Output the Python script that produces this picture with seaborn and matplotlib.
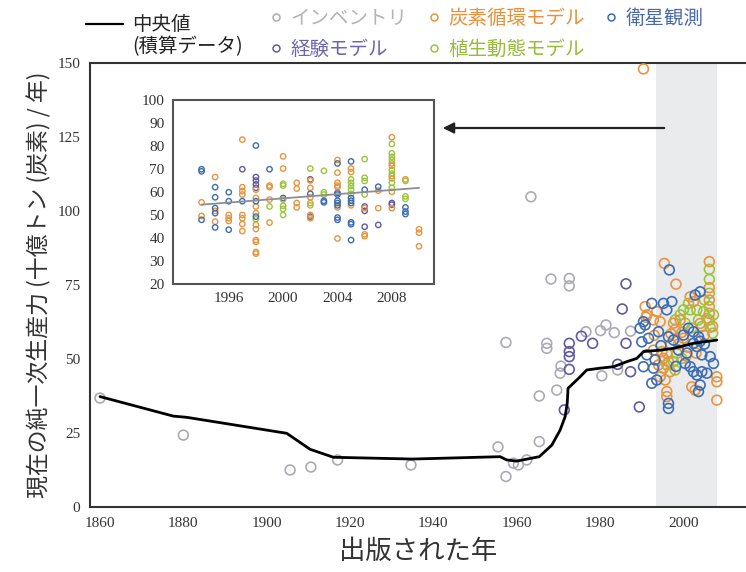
import matplotlib
matplotlib.use("Agg")
import matplotlib.pyplot as plt
from matplotlib.lines import Line2D
from matplotlib.ticker import MultipleLocator, FixedLocator
import seaborn as sns

# Dados --------------------------------------------------------------------------------
# curva do valor mediano (integrado)
med_year = [1860, 1877.6, 1880.8, 1904.8, 1910.4, 1916, 1935, 1956, 1957.6, 1960, 1965.4,
            1968.4, 1970.4, 1971.6, 1972.1, 1972.3, 1975.2, 1976.8, 1980, 1983.2, 1986.4,
            1988.8, 1990.4, 1994.4, 1997.6, 2002.4, 2008]
med_val = [37.3, 30.7, 30.3, 24.9, 19.5, 16.8, 16.2, 17.0, 15.9, 15.5, 17.0,
           20.9, 26.0, 30.5, 35.0, 40.1, 44.0, 46.3, 46.9, 47.4, 49.1,
           50.2, 52.5, 53.0, 53.6, 55.3, 56.4]

# inventários
inv_year = [1860, 1880, 1905.6, 1910.6, 1917, 1934.6, 1955.5, 1957.4, 1957.4, 1959.2, 1960.4,
            1962.4, 1963.4, 1965.4, 1965.4, 1967.2, 1967.2, 1968.2, 1969.6, 1970.4, 1970.6,
            1972.6, 1972.6, 1976.6, 1980.1, 1980.4, 1981.4, 1983.4, 1984.2, 1987.3]
inv_val = [36.8, 24.3, 12.5, 13.5, 15.9, 14.2, 20.3, 10.3, 55.6, 14.8, 14.2,
           15.9, 104.8, 37.5, 22.1, 55.3, 53.6, 77.0, 39.5, 45.2, 47.6,
           77.2, 74.7, 59.2, 59.6, 44.3, 61.5, 58.9, 46.3, 59.4]

# modelos empíricos
emp_year = [1971.4, 1972.6, 1972.6, 1972.6, 1972.6, 1975.5, 1978.2, 1984.2, 1985.3,
            1986.2, 1986.2, 1987.3, 1989.4]
emp_val = [32.8, 55.3, 52.5, 50.8, 46.5, 57.7, 55.3, 48.2, 66.9,
           75.4, 55.3, 45.7, 33.8]

# modelos do ciclo do carbono
car_year = [1990.4, 1995.4, 1998.2, 2006.2, 2001.6, 2002.4, 1991.2, 1993.6, 1992.8, 1994.4,
            1997.6, 1999.2, 1992.8, 1994.8, 1996.0, 1995.2, 1996.4, 1995.2, 1996.8, 1994.4,
            1995.6, 2008, 2008, 2008, 2002.0, 2002.8, 1996, 1996, 2006.2, 2006.2,
            2006.2, 2000.0, 1998.8, 2004.0, 2007.0, 1997.0, 1990.8, 1991.0, 1993.0, 1998.0,
            1999.6, 2001.0, 2003.0, 2005.0, 1997.0, 2000.6, 1994.0]
car_val = [148.0, 82.3, 75.3, 82.9, 71.0, 69.4, 64.9, 66.0, 63.2, 62.6,
           62.1, 63.2, 53.0, 52.5, 51.9, 50.2, 49.1, 46.9, 45.7, 44.0,
           42.9, 44.0, 42.3, 36.1, 40.6, 39.5, 39.0, 37.3, 74.1, 69.9,
           65.4, 57.0, 55.0, 62.0, 61.0, 58.5, 67.7, 64.1, 58.0, 60.0,
           59.0, 54.0, 52.0, 58.0, 55.0, 51.0, 48.0]

# modelos de dinâmica da vegetação
veg_year = [2006.2, 2006.2, 2006.2, 2006.2, 2006.2, 2006.4, 2007.0, 2001.2, 2000.0, 2001.6,
            2003.2, 2004.8, 1998.0, 1999.2, 2000.4, 2003.6, 2005.6, 2007.2, 1998.4, 1999.6,
            1997.6, 1996.0, 1998.0, 2004.4, 2002.0, 2005.0]
veg_val = [80.3, 76.9, 72.2, 67.7, 63.2, 60.7, 58.7, 68.8, 66.6, 66.6,
           66.6, 66.0, 63.2, 64.9, 62.1, 63.2, 63.7, 64.9, 51.9, 50.2,
           49.1, 48.0, 46.3, 61.0, 60.5, 70.0]

# observação por satélite
sat_year = [1996.6, 2004.0, 2002.8, 1992.4, 1995.2, 1997.2, 1996.0, 1990.8, 2001.2, 2002.4,
            2000.0, 2003.6, 1994.0, 1996.4, 1997.6, 1991.6, 1990.0, 2002.4, 2003.2, 2004.0,
            2005.0, 1991.2, 1993.2, 1990.4, 1992.8, 2004.4, 2006.4, 2007.2, 2000.4, 2001.6,
            2002.4, 2003.2, 2004.4, 2005.6, 1993.6, 1992.4, 1998.2, 2004.0, 2003.6, 1996.4,
            1996.4, 1989.6, 1990.4, 1998.8, 2000.8, 1994.6]
sat_val = [80.1, 72.7, 71.6, 68.8, 68.8, 69.4, 66.6, 61.5, 60.4, 59.2,
           58.1, 57.5, 59.2, 57.5, 56.4, 57.0, 55.8, 55.3, 54.2, 56.0,
           55.0, 51.4, 49.7, 47.4, 46.9, 51.4, 50.8, 48.5, 48.5, 47.4,
           45.7, 44.6, 45.7, 45.2, 42.9, 41.8, 47.5, 41.2, 39.0, 35.0,
           33.3, 60.4, 62.6, 53.0, 52.0, 54.5]

# detalhe (inset): valores por ano
ins_car = {1994: [55.5, 49.6], 1995: [66.5, 51.8, 47.1], 1996: [50, 48.6, 47.4],
           1997: [82.8, 62.1, 60.4, 58.9, 50, 48.6, 46.1, 43],
           1998: [61, 57.4, 53.7, 50.8, 45.7, 43.9, 39.1, 38.3, 33.9, 33.2],
           1999: [62.8, 62.1, 56.7, 46.7], 2000: [75.5, 70.2], 2001: [64, 61.5, 55.2, 53.3],
           2002: [65, 61.8, 57.7, 55.2, 50, 48.6], 2004: [73.9, 68.4, 64, 62.8, 62.1, 53.3, 39.8],
           2005: [70.2, 68.7, 54.2], 2006: [53, 41.6, 40.8], 2007: [60.6, 53],
           2008: [83.8, 72.4, 71.4, 67, 65.9, 60.1, 53], 2009: [65.5], 2010: [43.8, 42.3, 36.4]}
ins_sat = {1994: [69.9, 69.0, 47.9], 1995: [62.1, 57.7, 53, 50.8, 44.6], 1996: [59.9, 56, 43.6],
           1997: [56], 1998: [80.2, 56, 49.3], 1999: [69.9], 2002: [59.2], 2003: [56.2, 55.5],
           2004: [72.4, 58.9, 56.2, 55.2, 54.2, 48.9, 47.9],
           2005: [73.3, 57.4, 56.2, 55.2, 46.8, 46, 39.1], 2006: [61], 2007: [62.3],
           2009: [53.3, 51.5, 50.4]}
ins_emp = {1997: [69.9], 1998: [66.5, 65, 63.3, 61.8], 2000: [57.4], 2002: [65.5, 49.3],
           2004: [59.6], 2006: [53.7, 51.8, 44.9], 2007: [45.7], 2008: [55.2, 54.5]}
ins_veg = {1998: [48.2], 1999: [53.7], 2000: [63.6, 62.8, 56.7, 54, 52.6, 50],
           2002: [70.2, 54.2], 2003: [69.2, 59.9, 58.9], 2005: [65.5, 64, 62.6, 61, 59.2],
           2006: [74.3, 66.2, 64.8, 58.9],
           2008: [80.9, 76.8, 75.3, 73.9, 69.5, 68, 64, 61.8], 2009: [64.8, 58.1, 57]}
trend_year = [1994, 2010]
trend_val = [54.5, 61.8]

band = (1993.5, 2008)

labels = ["インベントリ", "経験モデル", "炭素循環モデル", "植生動態モデル", "衛星観測"]
cores = {"インベントリ": "#ababb6", "経験モデル": "#5f5aa3", "炭素循環モデル": "#e8953f",
         "植生動態モデル": "#9cc43c", "衛星観測": "#3e6cb3"}
cores_texto = {"インベントリ": "#b3b3b8", "経験モデル": "#6b64ab", "炭素循環モデル": "#e8913a",
               "植生動態モデル": "#97bb3c", "衛星観測": "#4a6aa8"}


def achatar(d):
    """Transforma {ano: [valores]} em duas listas."""
    xs, ys = [], []
    for ano, vals in d.items():
        xs += [ano] * len(vals)
        ys += vals
    return xs, ys


def circulos(ax, xs, ys, cor, s, lw, z=3):
    """Scatter com círculos vazados."""
    sns.scatterplot(x=xs, y=ys, ax=ax, color=cor, s=s, linewidth=lw, legend=False, zorder=z)
    pts = ax.collections[-1]
    pts.set_facecolor("none")
    pts.set_edgecolor(cor)


# Figura -------------------------------------------------------------------------------
sns.set_style("white")
plt.rcParams["font.family"] = ["Noto Sans CJK JP", "DejaVu Sans"]
serif = ["Liberation Serif", "DejaVu Serif"]

fig = plt.figure(figsize=(7.46, 5.72), dpi=100)
W, H = 746, 572
ax = fig.add_axes([90 / W, 1 - 507 / H, 656 / W, 444 / H])

ax.axvspan(*band, color="#e9ebed", lw=0, zorder=0)

circulos(ax, inv_year, inv_val, cores["インベントリ"], 50, 1.2)
circulos(ax, emp_year, emp_val, cores["経験モデル"], 50, 1.2)
circulos(ax, veg_year, veg_val, cores["植生動態モデル"], 50, 1.2)
circulos(ax, car_year, car_val, cores["炭素循環モデル"], 50, 1.2)
circulos(ax, sat_year, sat_val, cores["衛星観測"], 50, 1.2)

sns.lineplot(x=med_year, y=med_val, ax=ax, color="black", lw=2, estimator=None, sort=False,
             zorder=5)

ax.set_xlim(1857.6, 2015.0)
ax.set_ylim(0, 150)
ax.xaxis.set_major_locator(MultipleLocator(20))
ax.xaxis.set_minor_locator(MultipleLocator(2))
ax.yaxis.set_major_locator(MultipleLocator(25))
ax.yaxis.set_minor_locator(MultipleLocator(12.5))
ax.tick_params(which="both", direction="in", colors="#333333", labelcolor="#333333")
ax.tick_params(which="major", length=5, width=1, pad=7, labelsize=11)
ax.tick_params(which="minor", length=2.5, width=0.8)
for t in ax.get_xticklabels() + ax.get_yticklabels():
    t.set_family(serif)
for lado in ["left", "bottom", "top"]:
    ax.spines[lado].set_color("#333333")
    ax.spines[lado].set_linewidth(1.5)
ax.spines["right"].set_visible(False)

ax.set_xlabel("出版された年", fontsize=19, color="#333333", labelpad=6)
ax.set_ylabel("現在の純一次生産力 (十億トン (炭素) / 年)", fontsize=16.5, color="#333333",
              labelpad=4)

# seta apontando para o detalhe
ax.annotate("", xy=((440 - 90) / 656, (507 - 128) / 444),
            xytext=((667 - 90) / 656, (507 - 128) / 444), xycoords="axes fraction",
            arrowprops=dict(arrowstyle="-|>", color="#222222", lw=1.6, mutation_scale=16))

# Detalhe (inset) ------------------------------------------------------------------------
ins = fig.add_axes([173 / W, 1 - 284 / H, 261 / W, 184 / H])
ins.set_facecolor("white")
for nome, d in [("経験モデル", ins_emp), ("炭素循環モデル", ins_car),
                ("植生動態モデル", ins_veg), ("衛星観測", ins_sat)]:
    xs, ys = achatar(d)
    circulos(ins, xs, ys, cores[nome], 15, 1.0)
sns.lineplot(x=trend_year, y=trend_val, ax=ins, color="#8a8f96", lw=1.3, zorder=5)
ins.set_xlim(1991.9, 2011.1)
ins.set_ylim(20, 100)
ins.xaxis.set_major_locator(FixedLocator([1996, 2000, 2004, 2008]))
ins.xaxis.set_minor_locator(MultipleLocator(1))
ins.yaxis.set_major_locator(MultipleLocator(10))
ins.tick_params(which="both", direction="in", colors="#444444", labelcolor="#333333")
ins.tick_params(which="major", length=3, pad=6, labelsize=11)
ins.tick_params(which="minor", length=2.5)
for t in ins.get_xticklabels() + ins.get_yticklabels():
    t.set_family(serif)
for lado in ins.spines:
    ins.spines[lado].set_color("#555555")
    ins.spines[lado].set_linewidth(1.5)

# Legendas -------------------------------------------------------------------------------
leg1 = fig.legend(handles=[Line2D([], [], color="black", lw=1.6)], labels=["中央値"],
                  loc="center left", bbox_to_anchor=(86 / W, 1 - 25 / H), frameon=False,
                  fontsize=14, handlelength=1.9, handletextpad=0.45, borderpad=0,
                  borderaxespad=0)
fig.text(132 / W, 1 - 47 / H, "(積算データ)", fontsize=14, color="#222222",
         ha="left", va="center")

handles = [Line2D([], [], ls="none", marker="o", markersize=5, markerfacecolor="none",
                  markeredgecolor=cores[n], markeredgewidth=1.1) for n in labels]
leg2 = fig.legend(handles=handles, labels=labels, ncol=3, loc="upper left",
                  bbox_to_anchor=(268 / W, 1 - 8 / H), frameon=False, fontsize=14,
                  handlelength=0.8, handletextpad=0.35, columnspacing=0.95,
                  labelspacing=0.5, borderpad=0, borderaxespad=0,
                  labelcolor=[cores_texto[n] for n in labels])

fig.savefig("out.png", dpi=100)
